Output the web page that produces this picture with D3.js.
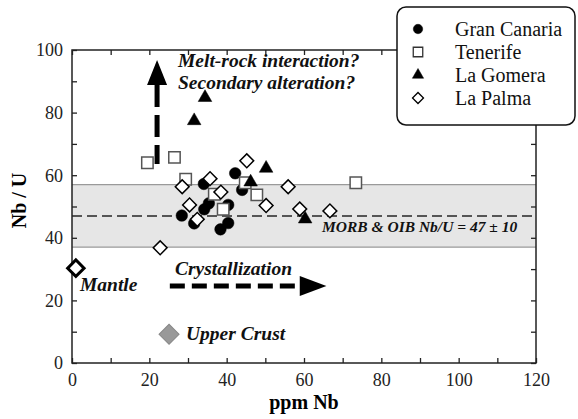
<!DOCTYPE html>
<html><head><meta charset="utf-8">
<script src="https://cdn.jsdelivr.net/npm/d3@7"></script>
<style>body{margin:0;background:#fff}svg{display:block}</style>
</head><body>
<svg id="c" width="578" height="419"></svg>
<script>
const granCanaria = [[34.1,57.2],[42.2,60.6],[44.0,55.3],[35.4,51.0],[34.2,49.1],[28.4,47.1],[31.6,44.6],[40.4,50.5],[40.4,44.7],[38.4,42.7]];
const tenerife = [[19.5,64.0],[26.5,65.7],[29.4,58.7],[44.8,57.6],[47.8,53.7],[36.8,53.9],[39.1,49.1],[73.4,57.6]];
const laGomera = [[34.4,84.8],[31.6,77.4],[50.2,62.2],[46.2,57.8],[60.3,46.0]];
const laPalma = [[28.5,56.3],[35.7,58.9],[45.2,64.6],[30.4,50.5],[32.4,45.9],[38.5,54.6],[55.9,56.3],[50.2,50.3],[58.9,49.2],[66.7,48.6],[22.8,36.8]];
const mantle = [1, 30.3];
const upperCrust = [25.1, 9.2];
const morbMean = 47, morbSd = 10;
const xTicks = [0,20,40,60,80,100,120];
const yTicks = [0,20,40,60,80,100];
const legendNames = ["Gran Canaria","Tenerife","La Gomera","La Palma"];

const svg = d3.select("#c");
const L=72,R=536,T=50,B=363;
const x = d3.scaleLinear().domain([0,120]).range([L,R]);
const y = d3.scaleLinear().domain([0,100]).range([B,T]);
const serif = "'Liberation Serif','Times New Roman',serif";

// band
svg.append("rect").attr("x",L).attr("width",R-L)
  .attr("y",y(morbMean+morbSd)).attr("height",y(morbMean-morbSd)-y(morbMean+morbSd))
  .attr("fill","#e6e6e6");
[morbMean+morbSd, morbMean-morbSd].forEach(v=>{
  svg.append("line").attr("x1",L).attr("x2",R).attr("y1",y(v)).attr("y2",y(v))
    .attr("stroke","#9a9a9a").attr("stroke-width",1.2);
});
svg.append("line").attr("x1",L).attr("x2",R).attr("y1",y(morbMean)).attr("y2",y(morbMean))
  .attr("stroke","#555").attr("stroke-width",2).attr("stroke-dasharray","10,5");

// frame and ticks
const gx = svg.append("g").attr("transform",`translate(0,${B})`)
  .call(d3.axisBottom(x).tickValues(d3.range(0,121,10)).tickSizeInner(-5).tickSizeOuter(0).tickFormat(d=>xTicks.includes(d)?d:""));
const gxt = svg.append("g").attr("transform",`translate(0,${T})`)
  .call(d3.axisTop(x).tickValues(d3.range(0,121,10)).tickSizeInner(-5).tickSizeOuter(0).tickFormat(""));
const gy = svg.append("g").attr("transform",`translate(${L},0)`)
  .call(d3.axisLeft(y).tickValues(d3.range(0,101,10)).tickSizeInner(-5).tickSizeOuter(0).tickFormat(d=>yTicks.includes(d)?d:""));
const gyr = svg.append("g").attr("transform",`translate(${R},0)`)
  .call(d3.axisRight(y).tickValues(d3.range(0,101,10)).tickSizeInner(-5).tickSizeOuter(0).tickFormat(""));
[gx,gxt,gy,gyr].forEach(g=>{
  g.attr("font-family",serif).attr("font-size",18);
  g.select(".domain").remove();
  g.selectAll(".tick line").attr("stroke","#222").attr("stroke-width",1.3);
  g.selectAll("text").attr("font-family",serif).attr("font-size",18).attr("fill","#222");
});
gx.selectAll("text").attr("dy",null).attr("y",23);
gy.selectAll("text").attr("x",-9).attr("dy","0.33em");
svg.append("rect").attr("x",L).attr("y",T).attr("width",R-L).attr("height",B-T)
  .attr("fill","none").attr("stroke","#222").attr("stroke-width",1.5);

// axis titles
svg.append("text").attr("x",(L+R)/2).attr("y",409).attr("text-anchor","middle")
  .attr("font-family",serif).attr("font-weight","bold").attr("font-size",20).text("ppm Nb");
svg.append("text").attr("transform",`translate(26,${(T+B)/2-6}) rotate(-90)`).attr("text-anchor","middle")
  .attr("font-family",serif).attr("font-weight","bold").attr("font-size",20).text("Nb / U");

// symbols
const sym = {
  circle: d3.symbol().type(d3.symbolCircle).size(105),
  square: d3.symbol().type(d3.symbolSquare).size(130),
  triangle: d3.symbol().type(d3.symbolTriangle).size(80),
  diamond: d3.symbol().type(d3.symbolSquare).size(95)
};
function draw(data, kind){
  const g = svg.append("g");
  g.selectAll("path").data(data).join("path")
    .attr("d", sym[kind]())
    .attr("transform", d=>`translate(${x(d[0])},${y(d[1])})` + (kind==="diamond"?" rotate(45)":""))
    .attr("fill", kind==="circle"||kind==="triangle" ? "#000" : "#fff")
    .attr("stroke", kind==="square" ? "#555" : "#000")
    .attr("stroke-width", kind==="circle"||kind==="triangle" ? 0.5 : 1.5);
}
draw(granCanaria,"circle");
draw(tenerife,"square");
draw(laGomera,"triangle");
draw(laPalma,"diamond");

// mantle and crust
svg.append("path").attr("d",d3.symbol().type(d3.symbolSquare).size(135)())
  .attr("transform",`translate(${x(mantle[0])},${y(mantle[1])}) rotate(45)`)
  .attr("fill","#fff").attr("stroke","#000").attr("stroke-width",3);
svg.append("path").attr("d",d3.symbol().type(d3.symbolSquare).size(200)())
  .attr("transform",`translate(${x(upperCrust[0])},${y(upperCrust[1])}) rotate(45)`)
  .attr("fill","#999").attr("stroke","#888").attr("stroke-width",1);

// arrows
const va = {x:22, bottom:63.6, base:88.8, tip:96.8};
svg.append("line").attr("x1",x(va.x)).attr("x2",x(va.x)).attr("y1",y(va.base)).attr("y2",y(va.bottom))
  .attr("stroke","#000").attr("stroke-width",5).attr("stroke-dasharray","22,8");
svg.append("path").attr("d",`M${x(va.x)-10},${y(va.base)} L${x(va.x)},${y(va.tip)} L${x(va.x)+10},${y(va.base)} Z`).attr("fill","#000");
const ha = {y:24.6, start:25.3, base:58.9, tip:65.8};
svg.append("line").attr("x1",x(ha.start)).attr("x2",x(ha.base)).attr("y1",y(ha.y)).attr("y2",y(ha.y))
  .attr("stroke","#000").attr("stroke-width",5).attr("stroke-dasharray","15,7");
svg.append("path").attr("d",`M${x(ha.base)},${y(ha.y)-10} L${x(ha.tip)},${y(ha.y)} L${x(ha.base)},${y(ha.y)+10} Z`).attr("fill","#000");

// annotations
function ann(tx,ty,t,fs){
  svg.append("text").attr("x",tx).attr("y",ty).attr("font-family",serif).attr("font-weight","bold")
    .attr("font-style","italic").attr("font-size",fs).attr("fill","#111").text(t);
}
ann(178,67,"Melt-rock interaction?",19.5);
ann(178,89,"Secondary alteration?",19.5);
ann(175,275,"Crystallization",19.5);
ann(80,291,"Mantle",19.5);
ann(186,340,"Upper Crust",19.5);
ann(322,232,"MORB & OIB Nb/U = 47 \u00b1 10",15.5);

// legend
const lg = svg.append("g");
lg.append("rect").attr("x",397).attr("y",7).attr("width",178).attr("height",118).attr("rx",9)
  .attr("fill","#fff").attr("stroke","#111").attr("stroke-width",1.5);
const kinds = ["circle","square","triangle","diamond"];
const lsym = {
  circle: d3.symbol().type(d3.symbolCircle).size(70),
  square: d3.symbol().type(d3.symbolSquare).size(90),
  triangle: d3.symbol().type(d3.symbolTriangle).size(55),
  diamond: d3.symbol().type(d3.symbolSquare).size(60)
};
legendNames.forEach((n,i)=>{
  const cy = 29 + i*23;
  lg.append("path").attr("d",lsym[kinds[i]]())
    .attr("transform",`translate(418,${cy})`+(kinds[i]==="diamond"?" rotate(45)":""))
    .attr("fill", i===0||i===2 ? "#000":"#fff").attr("stroke", i===1?"#333":"#000").attr("stroke-width", i===0||i===2?0.5:1.3);
  lg.append("text").attr("x",455).attr("y",cy).attr("dy","0.33em").attr("font-family",serif)
    .attr("font-size",20).attr("fill","#111").text(n);
});
</script>
</body></html>
